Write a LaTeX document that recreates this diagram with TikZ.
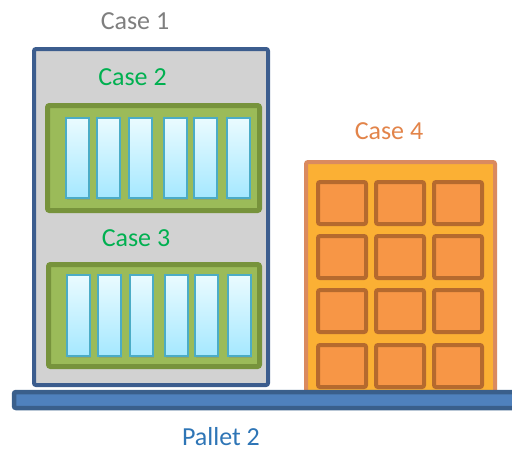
\documentclass[tikz,border=0pt]{standalone}
\usepackage{fontspec}
\setmainfont{Carlito}
\usetikzlibrary{shadows}
\definecolor{caseblue}{HTML}{3C5D8E}
\definecolor{casegray}{HTML}{D2D2D2}
\definecolor{greenedge}{HTML}{77933C}
\definecolor{greenfill}{HTML}{9BBB59}
\definecolor{celledge}{HTML}{4BACC6}
\definecolor{celltop}{HTML}{EAFBFF}
\definecolor{cellbottom}{HTML}{A5E8FF}
\definecolor{orangeedge}{HTML}{DA8A5F}
\definecolor{orangefill}{HTML}{FBB034}
\definecolor{boxedge}{HTML}{B56A2E}
\definecolor{boxfill}{HTML}{F79646}
\definecolor{palletfill}{HTML}{4F81BD}
\definecolor{palletedge}{HTML}{3A5F8B}
\definecolor{graytext}{HTML}{7F7F7F}
\definecolor{greentext}{HTML}{00B050}
\definecolor{orangetext}{HTML}{E2844A}
\definecolor{bluetext}{HTML}{2E75B6}
\begin{document}
\begin{tikzpicture}[x=1pt,y=-1pt,
  caption/.style={font=\fontsize{26}{30}\selectfont, inner sep=0pt, text depth=0pt, anchor=base},
  outer case/.style={draw=caseblue, line width=4pt, fill=casegray, rounded corners=2pt},
  green case/.style={draw=greenedge, line width=5pt, fill=greenfill, rounded corners=2pt},
  cell/.style={draw=celledge, line width=2.5pt, top color=celltop, bottom color=cellbottom,
    drop shadow={shadow xshift=1pt, shadow yshift=-2pt, opacity=0.3}},
  orange case/.style={draw=orangeedge, line width=4pt, fill=orangefill, rounded corners=2pt},
  carton/.style={draw=boxedge, line width=4pt, fill=boxfill, rounded corners=2pt},
  pallet/.style={draw=palletedge, line width=4.5pt, fill=palletfill, rounded corners=2pt},
  ]
\clip (0,0) rectangle (512,450);

% case 1 with cases 2 and 3
\draw[outer case] (34,49) rectangle (268,385);
\draw[green case] (47.5,105.5) rectangle (259.5,210.5);
\foreach \x in {65,96,128,163,193,226}
  \draw[cell] (\x+1,118) rectangle (\x+24,198);
\draw[green case] (48.5,264.5) rectangle (259.5,366.5);
\foreach \x in {66,97,129,164,194,227}
  \draw[cell] (\x+1,275) rectangle (\x+24,356);

% case 4
\draw[orange case] (306,162) rectangle (495,395);
\foreach \x in {316,374,432}
  \foreach \y in {180,234,288,343}
    \draw[carton] (\x+2,\y+2) rectangle (\x+50,\y+44);

% pallet
\draw[pallet] (14,392) rectangle (520,408);

\node[caption, text=graytext] (case1) at (135,29) {Case 1};
\node[caption, text=greentext] (case2) at (132.5,85) {Case 2};
\node[caption, text=greentext] (case3) at (136,246) {Case 3};
\node[caption, text=orangetext] (case4) at (389,139) {Case 4};
\node[caption, text=bluetext] (pallet2) at (221,445) {Pallet 2};
\end{tikzpicture}
\end{document}
